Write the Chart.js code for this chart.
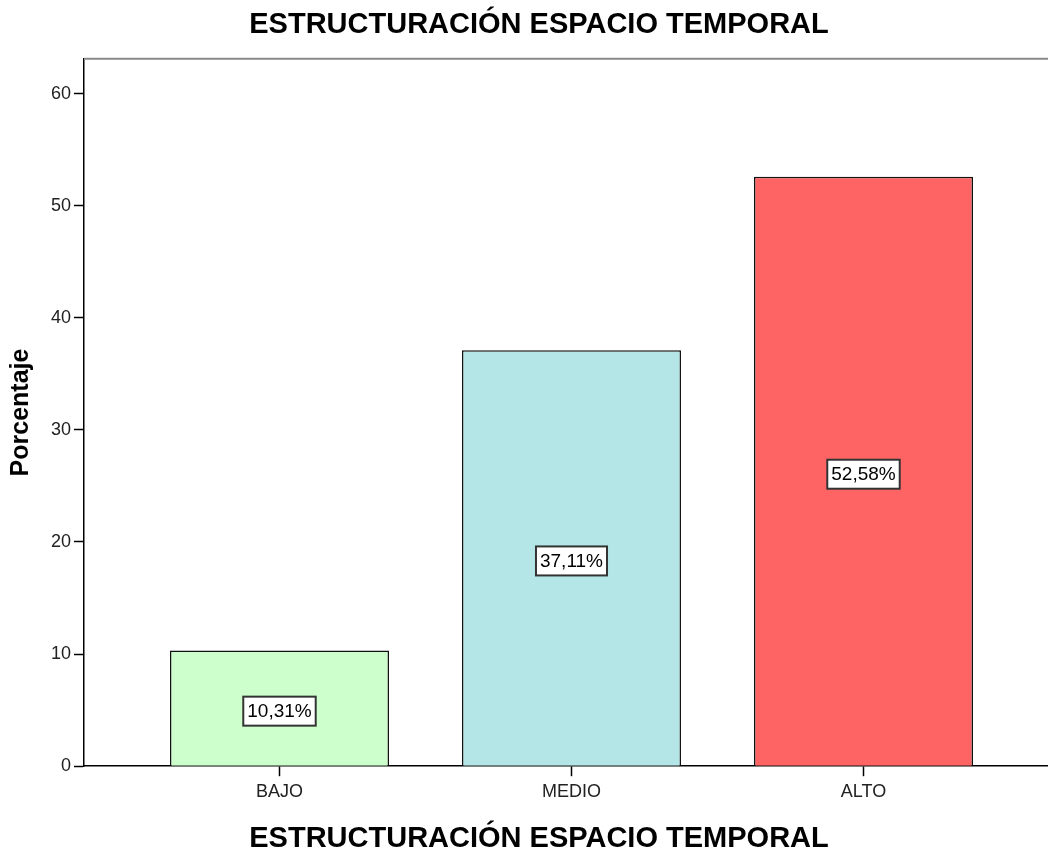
<!DOCTYPE html>
<html>
<head>
<meta charset="utf-8">
<script src="https://cdn.jsdelivr.net/npm/chart.js@4"></script>
<style>
    html, body { margin: 0; padding: 0; background: #fff; overflow: hidden; }
    #wrap { width: 1048px; height: 849px; overflow: hidden; }
</style>
</head>
<body>
<div id="wrap"><canvas id="barChart" width="1078" height="870"></canvas></div>
<script>
const categories = ['BAJO', 'MEDIO', 'ALTO'];
const percentages = [10.31, 37.11, 52.58];
const barColors = ['#CCFFCC', '#B4E6E8', '#FF6464'];
const yTicks = [0, 10, 20, 30, 40, 50, 60];

const chartTitle = 'ESTRUCTURACIÓN ESPACIO TEMPORAL';
const fontFamily = "Arial, 'Liberation Sans', sans-serif";

function formatPercent(value) {
    return value.toFixed(2).replace('.', ',') + '%';
}

// marco gris arriba y cajas de etiqueta dentro de las barras
const spssDecor = {
    id: 'spssDecor',
    beforeDatasetsDraw(chart) {
        const { ctx, chartArea } = chart;
        ctx.save();
        ctx.strokeStyle = '#8a8a8a';
        ctx.lineWidth = 2;
        ctx.beginPath();
        ctx.moveTo(chartArea.left, chartArea.top);
        ctx.lineTo(chartArea.right, chartArea.top);
        ctx.stroke();
        ctx.restore();
    },
    afterDatasetsDraw(chart) {
        const { ctx } = chart;
        const meta = chart.getDatasetMeta(0);
        ctx.save();
        ctx.font = '19px ' + fontFamily;
        ctx.textAlign = 'center';
        ctx.textBaseline = 'middle';
        meta.data.forEach((bar, i) => {
            const text = formatPercent(percentages[i]);
            const w = ctx.measureText(text).width + 8;
            const h = 29;
            const cx = bar.x;
            const cy = (bar.y + bar.base) / 2 + 3;
            ctx.fillStyle = '#ffffff';
            ctx.fillRect(cx - w / 2, cy - h / 2, w, h);
            ctx.strokeStyle = '#333';
            ctx.lineWidth = 2;
            ctx.strokeRect(cx - w / 2, cy - h / 2, w, h);
            ctx.fillStyle = '#000';
            ctx.fillText(text, cx, cy + 1);
        });
        ctx.restore();
    }
};

const ctx = document.getElementById('barChart').getContext('2d');

window.barChart = new Chart(ctx, {
    type: 'bar',
    data: {
        datasets: [{
            label: 'Porcentaje',
            data: percentages.map((v, i) => ({ x: i, y: v })),
            backgroundColor: barColors,
            borderColor: '#111',
            borderWidth: 1.5,
            barPercentage: 0.75,
            categoryPercentage: 1
        }]
    },
    options: {
        responsive: false,
        animation: false,
        devicePixelRatio: 1,
        layout: { padding: 0 },
        plugins: {
            legend: { display: false },
            tooltip: { enabled: false },
            title: {
                display: true,
                text: chartTitle,
                color: '#000',
                font: { family: fontFamily, size: 29, weight: 'bold' },
                padding: { top: 8, bottom: 16 }
            },
            subtitle: {
                display: true,
                position: 'bottom',
                text: chartTitle,
                color: '#000',
                font: { family: fontFamily, size: 29, weight: 'bold' },
                padding: { top: 10, bottom: 14 }
            }
        },
        scales: {
            x: {
                type: 'linear',
                min: -0.6695,
                max: 2.7346,
                offset: false,
                afterBuildTicks: scale => {
                    scale.ticks = categories.map((c, i) => ({ value: i }));
                },
                afterFit: scale => { scale.height = 45; },
                ticks: {
                    callback: value => categories[value] || '',
                    color: '#222',
                    font: { family: fontFamily, size: 18 },
                    padding: 5,
                    maxRotation: 0
                },
                grid: {
                    offset: false,
                    drawOnChartArea: false,
                    drawTicks: true,
                    tickLength: 10,
                    tickWidth: 1.5,
                    tickColor: '#000'
                },
                border: { display: true, color: '#000', width: 1.5 }
            },
            y: {
                min: 0,
                max: 63.1,
                afterBuildTicks: scale => {
                    scale.ticks = yTicks.map(v => ({ value: v }));
                },
                afterFit: scale => { scale.width = 84; },
                ticks: {
                    color: '#222',
                    font: { family: fontFamily, size: 18 },
                    padding: 3
                },
                grid: {
                    drawOnChartArea: false,
                    drawTicks: true,
                    tickLength: 10,
                    tickWidth: 1.5,
                    tickColor: '#000'
                },
                border: { display: true, color: '#000', width: 1.5 },
                title: {
                    display: true,
                    text: 'Porcentaje',
                    color: '#000',
                    font: { family: fontFamily, size: 25, weight: 'bold' },
                    padding: { top: 6, bottom: 0 }
                }
            }
        }
    },
    plugins: [spssDecor]
});
</script>
</body>
</html>
